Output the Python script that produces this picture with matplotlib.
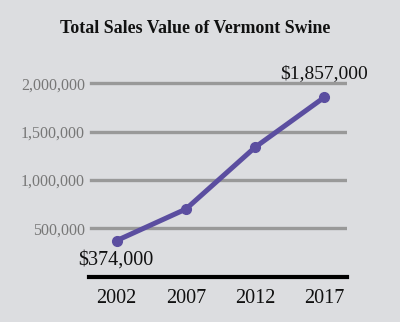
import matplotlib
matplotlib.use("Agg")
import matplotlib.pyplot as plt

years = [2002, 2007, 2012, 2017]
values = [374000, 700000, 1340000, 1857000]
yticks = [500000, 1000000, 1500000, 2000000]
ytick_labels = ["500,000", "1,000,000", "1,500,000", "2,000,000"]
title = "Total Sales Value of Vermont Swine"

bg = "#dcdde0"
purple = "#5b4ea0"
grid_c = "#999999"

plt.rcParams['font.family'] = ['Liberation Serif', 'DejaVu Serif']

fig = plt.figure(figsize=(4.0, 3.22), dpi=100, facecolor=bg)
ax = fig.add_axes([0.2225, 0.1407, 0.645, 0.63])
ax.set_facecolor(bg)

for yv in yticks:
    ax.axhline(yv, xmin=0.006, xmax=0.992, color=grid_c, lw=2.4, zorder=1)

ax.plot(years, values, color=purple, lw=3.6, marker='o', markersize=7,
        solid_capstyle='round', zorder=3, clip_on=False)

ax.set_xlim(2000, 2018.64)
ax.set_ylim(0, 2100000)

for s in ['top', 'right', 'left']:
    ax.spines[s].set_visible(False)
ax.spines['bottom'].set_linewidth(3)
ax.spines['bottom'].set_color('black')

ax.set_xticks(years)
ax.set_xticklabels([str(y) for y in years], fontsize=14.5, color='#111111')
ax.set_yticks(yticks)
ax.set_yticklabels(ytick_labels, fontsize=11.5, color='#777777')
ax.tick_params(axis='both', length=0)
ax.tick_params(axis='x', pad=9)
ax.tick_params(axis='y', pad=3)

ax.annotate("$" + f"{values[0]:,}", (years[0], values[0]), xytext=(-0.5, -14),
            textcoords='offset points', ha='center', va='center', fontsize=14.5,
            color='#111111', annotation_clip=False)
ax.annotate("$" + f"{values[-1]:,}", (years[-1], values[-1]), xytext=(0, 17),
            textcoords='offset points', ha='center', va='center', fontsize=14,
            color='#111111', annotation_clip=False)

fig.text(0.4875, 0.913, title, ha='center', va='center', fontsize=12.9,
         fontweight='bold', color='#111111')

fig.savefig("out.png", dpi=100, facecolor=bg)
